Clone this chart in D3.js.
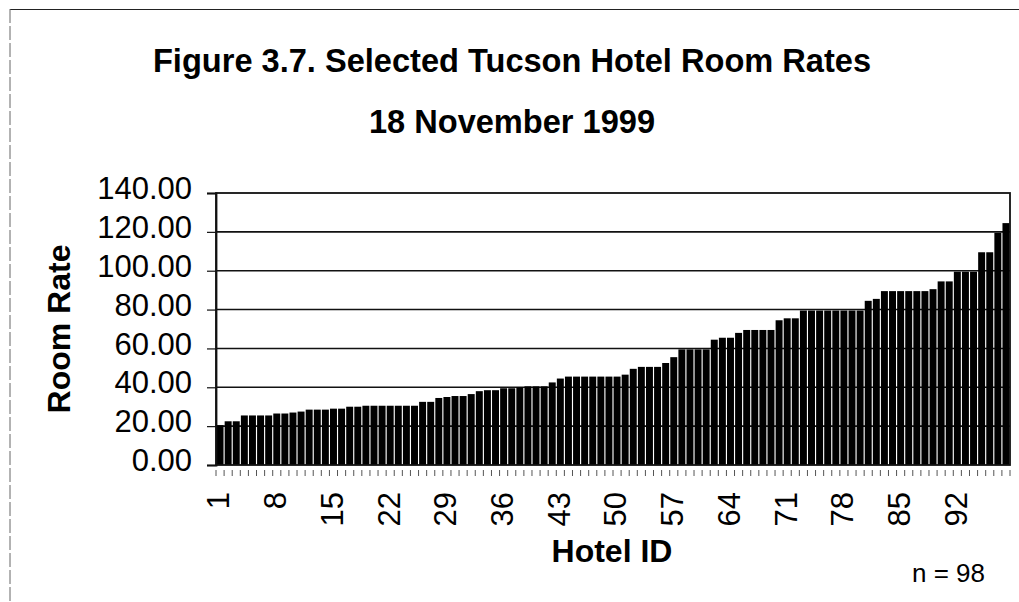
<!DOCTYPE html>
<html>
<head>
<meta charset="utf-8">
<script src="https://cdn.jsdelivr.net/npm/d3@7"></script>
<style>
  html, body { margin: 0; padding: 0; background: #fff; }
  svg { display: block; font-family: "Liberation Sans", Arial, sans-serif; }
</style>
</head>
<body>
<svg id="chart" width="1019" height="602"></svg>
<script>
// ---- Data ----
const titleLines = ["Figure 3.7. Selected Tucson Hotel Room Rates", "18 November 1999"];
const xAxisTitle = "Hotel ID";
const yAxisTitle = "Room Rate";
const noteText = "n = 98";

const hotelIds = d3.range(1, 99);
const roomRates = [
  20.5, 22.5, 22.5, 25.5, 25.5, 25.5, 25.5, 26.5, 26.5, 27,
  27.5, 28.5, 28.5, 28.5, 29, 29, 30, 30, 30.5, 30.5,
  30.5, 30.5, 30.5, 30.5, 30.5, 32.5, 32.5, 34.5, 35, 35.5,
  35.5, 36.5, 38, 38.5, 38.5, 39.5, 39.5, 40, 40.5, 40.5,
  40.5, 42.5, 44.5, 45.5, 45.5, 45.5, 45.5, 45.5, 45.5, 45.5,
  46.5, 49.5, 50.5, 50.5, 50.5, 52.5, 55.5, 59.5, 59.5, 59.5,
  59.5, 64.5, 65.5, 65.5, 68, 69.5, 69.5, 69.5, 69.5, 74.5,
  75.5, 75.5, 79.5, 79.5, 79.5, 79.5, 79.5, 79.5, 79.5, 79.5,
  84.5, 85.5, 89.5, 89.5, 89.5, 89.5, 89.5, 89.5, 90.5, 94.5,
  94.5, 99.5, 99.5, 99.5, 109.5, 109.5, 119.5, 124.5
];
const yTicks = [0, 20, 40, 60, 80, 100, 120, 140];
const xTickLabels = [1, 8, 15, 22, 29, 36, 43, 50, 57, 64, 71, 78, 85, 92];

// ---- Layout ----
const svg = d3.select("#chart");
const plot = { left: 216, right: 1010, top: 193, bottom: 465 };

const x = d3.scaleBand().domain(hotelIds).range([plot.left, plot.right])
  .paddingInner(0.14).paddingOuter(0.07);
const y = d3.scaleLinear().domain([0, 140]).range([plot.bottom, plot.top]);

// outer frame (scanned page border)
svg.append("line").attr("x1", 10).attr("x2", 1019).attr("y1", 9.5).attr("y2", 9.5)
  .attr("stroke", "#222").attr("stroke-width", 1.2);
svg.append("line").attr("x1", 10).attr("x2", 10).attr("y1", 9).attr("y2", 602)
  .attr("stroke", "#666").attr("stroke-width", 1).attr("stroke-dasharray", "14,3");

// titles
svg.selectAll("text.title").data(titleLines).join("text")
  .attr("class", "title")
  .attr("x", 512).attr("y", (d, i) => 72 + i * 61)
  .attr("text-anchor", "middle")
  .attr("font-size", 32.6).attr("font-weight", "bold").attr("fill", "#000")
  .text(d => d);

// gridlines
svg.append("g").selectAll("line").data(yTicks.filter(t => t > 0 && t < 140)).join("line")
  .attr("x1", plot.left).attr("x2", plot.right)
  .attr("y1", d => y(d)).attr("y2", d => y(d))
  .attr("stroke", "#111").attr("stroke-width", 1.6);

// bars
svg.append("g").selectAll("rect").data(roomRates).join("rect")
  .attr("x", (d, i) => x(hotelIds[i]))
  .attr("width", x.bandwidth())
  .attr("y", d => y(d))
  .attr("height", d => y(0) - y(d))
  .attr("fill", "#000");

// plot frame
svg.append("rect")
  .attr("x", plot.left).attr("y", plot.top)
  .attr("width", plot.right - plot.left).attr("height", plot.bottom - plot.top)
  .attr("fill", "none").attr("stroke", "#111").attr("stroke-width", 1.8);

// y axis
const yAxis = svg.append("g").attr("transform", `translate(${plot.left},0)`)
  .call(d3.axisLeft(y).tickValues(yTicks).tickFormat(d3.format(".2f")).tickSize(9).tickPadding(15));
yAxis.select(".domain").attr("stroke", "#111").attr("stroke-width", 1.8);
yAxis.selectAll(".tick line").attr("stroke", "#111").attr("stroke-width", 1.2);
yAxis.selectAll(".tick text")
  .attr("font-family", "Liberation Sans, Arial, sans-serif")
  .attr("font-size", 31).attr("fill", "#000").attr("dy", "0.18em");

// x minor ticks at category boundaries
svg.append("g").selectAll("line").data(d3.range(0, hotelIds.length + 1)).join("line")
  .attr("x1", i => plot.left + i * (plot.right - plot.left) / hotelIds.length)
  .attr("x2", i => plot.left + i * (plot.right - plot.left) / hotelIds.length)
  .attr("y1", plot.bottom + 5).attr("y2", plot.bottom + 11)
  .attr("stroke", "#555").attr("stroke-width", 1);

// x axis labels
const xAxis = svg.append("g").attr("transform", `translate(0,${plot.bottom})`)
  .call(d3.axisBottom(x).tickValues(xTickLabels).tickSize(0).tickPadding(0));
xAxis.select(".domain").remove();
xAxis.selectAll(".tick text")
  .attr("font-family", "Liberation Sans, Arial, sans-serif")
  .attr("font-size", 31).attr("fill", "#000")
  .attr("text-anchor", "end")
  .attr("transform", "translate(0,27) rotate(-90)")
  .attr("x", 0).attr("y", 0).attr("dy", "0.3em");

// axis titles
svg.append("text")
  .attr("x", 612).attr("y", 562).attr("text-anchor", "middle")
  .attr("font-size", 32).attr("font-weight", "bold").attr("fill", "#000")
  .text(xAxisTitle);
svg.append("text")
  .attr("transform", "translate(70,329) rotate(-90)")
  .attr("text-anchor", "middle")
  .attr("font-size", 32).attr("font-weight", "bold").attr("fill", "#000")
  .text(yAxisTitle);

// note
svg.append("text")
  .attr("x", 985).attr("y", 582).attr("text-anchor", "end")
  .attr("font-size", 26).attr("fill", "#000")
  .text(noteText);
</script>
</body>
</html>
